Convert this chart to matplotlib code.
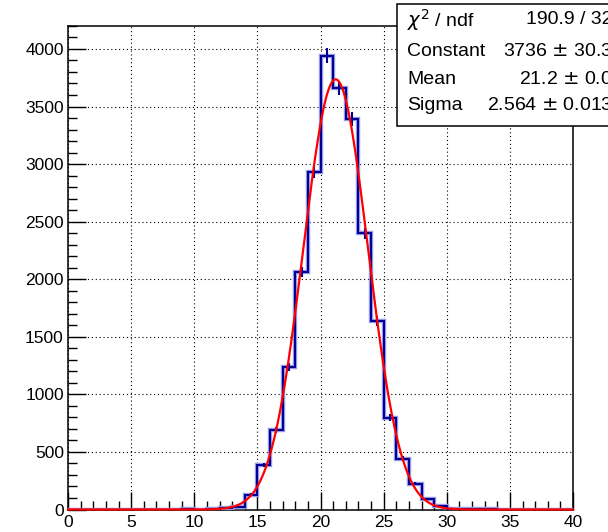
import numpy as np
import matplotlib
matplotlib.use("Agg")
import matplotlib.pyplot as plt
from matplotlib.ticker import MultipleLocator

plt.rcParams['font.family'] = ['Liberation Sans', 'DejaVu Sans']

# ---- data ----
bin_edges = np.arange(0, 41, 1)
counts = [0, 0, 0, 0, 0, 0, 0, 0, 0, 5,
          0, 6, 10, 20, 130, 385, 690, 1240, 2062, 2933,
          3942, 3659, 3393, 2398, 1638, 799, 442, 225, 94, 28,
          8, 5, 4, 2, 0, 0, 0, 0, 0, 0]
fit_const = 3736
fit_mean = 21.2
fit_sigma = 2.564
x_ticks = [0, 5, 10, 15, 20, 25, 30, 35, 40]
y_ticks = [0, 500, 1000, 1500, 2000, 2500, 3000, 3500, 4000]
stat_names = ["$\\chi^{2}$ / ndf", "Constant", "Mean", "Sigma"]
stat_values = ["190.9 / 32", "3736 $\\pm$ 30.3", "21.2 $\\pm$ 0.0", "2.564 $\\pm$ 0.013"]

W, H = 608, 532
fig = plt.figure(figsize=(W / 100, H / 100), dpi=100)
L, R, B, T = 68, 573, 509.5, 25.7
ax = fig.add_axes([L / W, (H - B) / H, (R - L) / W, (B - T) / H])

counts = np.array(counts, dtype=float)
centers = 0.5 * (bin_edges[:-1] + bin_edges[1:])

# histogram step (with light halo)
xs = np.repeat(bin_edges, 2)[1:-1]
ys = np.repeat(counts, 2)
ax.plot(xs, ys, color='#9aa0e6', lw=3.2, zorder=3, solid_joinstyle='miter')
ax.plot(xs, ys, color='#000099', lw=1.5, zorder=4, solid_joinstyle='miter')
# error bars
err = np.sqrt(counts)
mask = counts > 0
ax.vlines(centers[mask], (counts - err)[mask], (counts + err)[mask],
          color='#000099', lw=1.5, zorder=4)

# fit curve
xf = np.linspace(0, 40, 800)
yf = fit_const * np.exp(-0.5 * ((xf - fit_mean) / fit_sigma) ** 2)
ax.plot(xf, yf, color='#ff0000', lw=1.6, zorder=5, clip_on=False)

ax.set_xlim(0, 40)
ax.set_ylim(0, 4202)
ax.set_xticks(x_ticks)
ax.set_yticks(y_ticks)
ax.set_xticklabels([str(v) for v in x_ticks])
ax.set_yticklabels([str(v) for v in y_ticks])
ax.xaxis.set_minor_locator(MultipleLocator(1))
ax.yaxis.set_minor_locator(MultipleLocator(100))
ax.tick_params(which='both', direction='in', top=False, right=False,
               labelsize=12.5, width=1, color='black')
ax.tick_params(which='major', length=13, pad=3)
ax.tick_params(which='minor', length=6.5)
ax.tick_params(axis='x', pad=4)
for s in ax.spines.values():
    s.set_linewidth(1.1)
    s.set_color('black')
ax.grid(True, which='major', color='black', linestyle=(0, (1, 2.5)), lw=0.8)
ax.set_axisbelow(True)

# stats box
bx0, by0, by1 = 397, 4.5, 126
fig.patches.append(plt.Rectangle((bx0 / W, (H - by1) / H), (W + 20 - bx0) / W,
                                 (by1 - by0) / H, transform=fig.transFigure,
                                 facecolor='white', edgecolor='black', lw=1.1,
                                 zorder=10))
rows_y = [20, 52, 79, 106]
for name, val, yy in zip(stat_names, stat_values, rows_y):
    fig.text(407 / W, (H - yy) / H, name, ha='left', va='center',
             fontsize=14, zorder=11)
    fig.text(613 / W, (H - yy) / H, val, ha='right', va='center',
             fontsize=14, zorder=11)

fig.savefig('out.png', dpi=100)
